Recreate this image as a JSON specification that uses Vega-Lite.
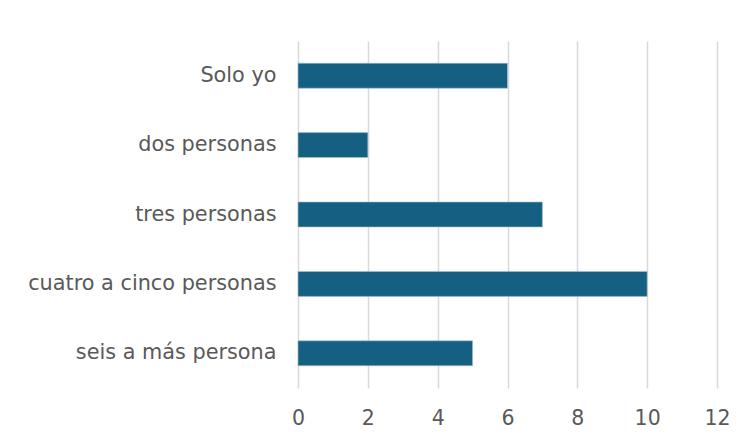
{
  "$schema": "https://vega.github.io/schema/vega-lite/v6.json",
  "autosize": {"type": "none"},
  "width": 419,
  "height": 347,
  "padding": {"left": 298, "top": 41, "right": 34, "bottom": 56},
  "background": "white",
  "data": {
    "values": [
      {"categoria": "Solo yo", "valor": 6},
      {"categoria": "dos personas", "valor": 2},
      {"categoria": "tres personas", "valor": 7},
      {"categoria": "cuatro a cinco personas", "valor": 10},
      {"categoria": "seis a más persona", "valor": 5}
    ]
  },
  "mark": {"type": "bar", "color": "#156082", "stroke": "#a9bfcc", "strokeWidth": 0.6},
  "encoding": {
    "y": {
      "field": "categoria",
      "type": "nominal",
      "sort": null,
      "scale": {"paddingInner": 0.64, "paddingOuter": 0.32},
      "axis": {
        "title": null,
        "domain": false,
        "ticks": false,
        "grid": false,
        "labelFont": "DejaVu Sans",
        "labelFontSize": 20.8,
        "labelColor": "#595959",
        "labelPadding": 22,
        "labelLimit": 300
      }
    },
    "x": {
      "field": "valor",
      "type": "quantitative",
      "scale": {"domain": [0, 12], "nice": false},
      "axis": {
        "title": null,
        "values": [0, 2, 4, 6, 8, 10, 12],
        "domain": false,
        "ticks": false,
        "grid": true,
        "gridColor": "#d9d9d9",
        "gridWidth": 1.5,
        "labelFlush": false,
        "labelFont": "DejaVu Sans",
        "labelFontSize": 20.5,
        "labelColor": "#595959",
        "labelPadding": 20
      }
    }
  },
  "config": {"view": {"stroke": null}}
}
